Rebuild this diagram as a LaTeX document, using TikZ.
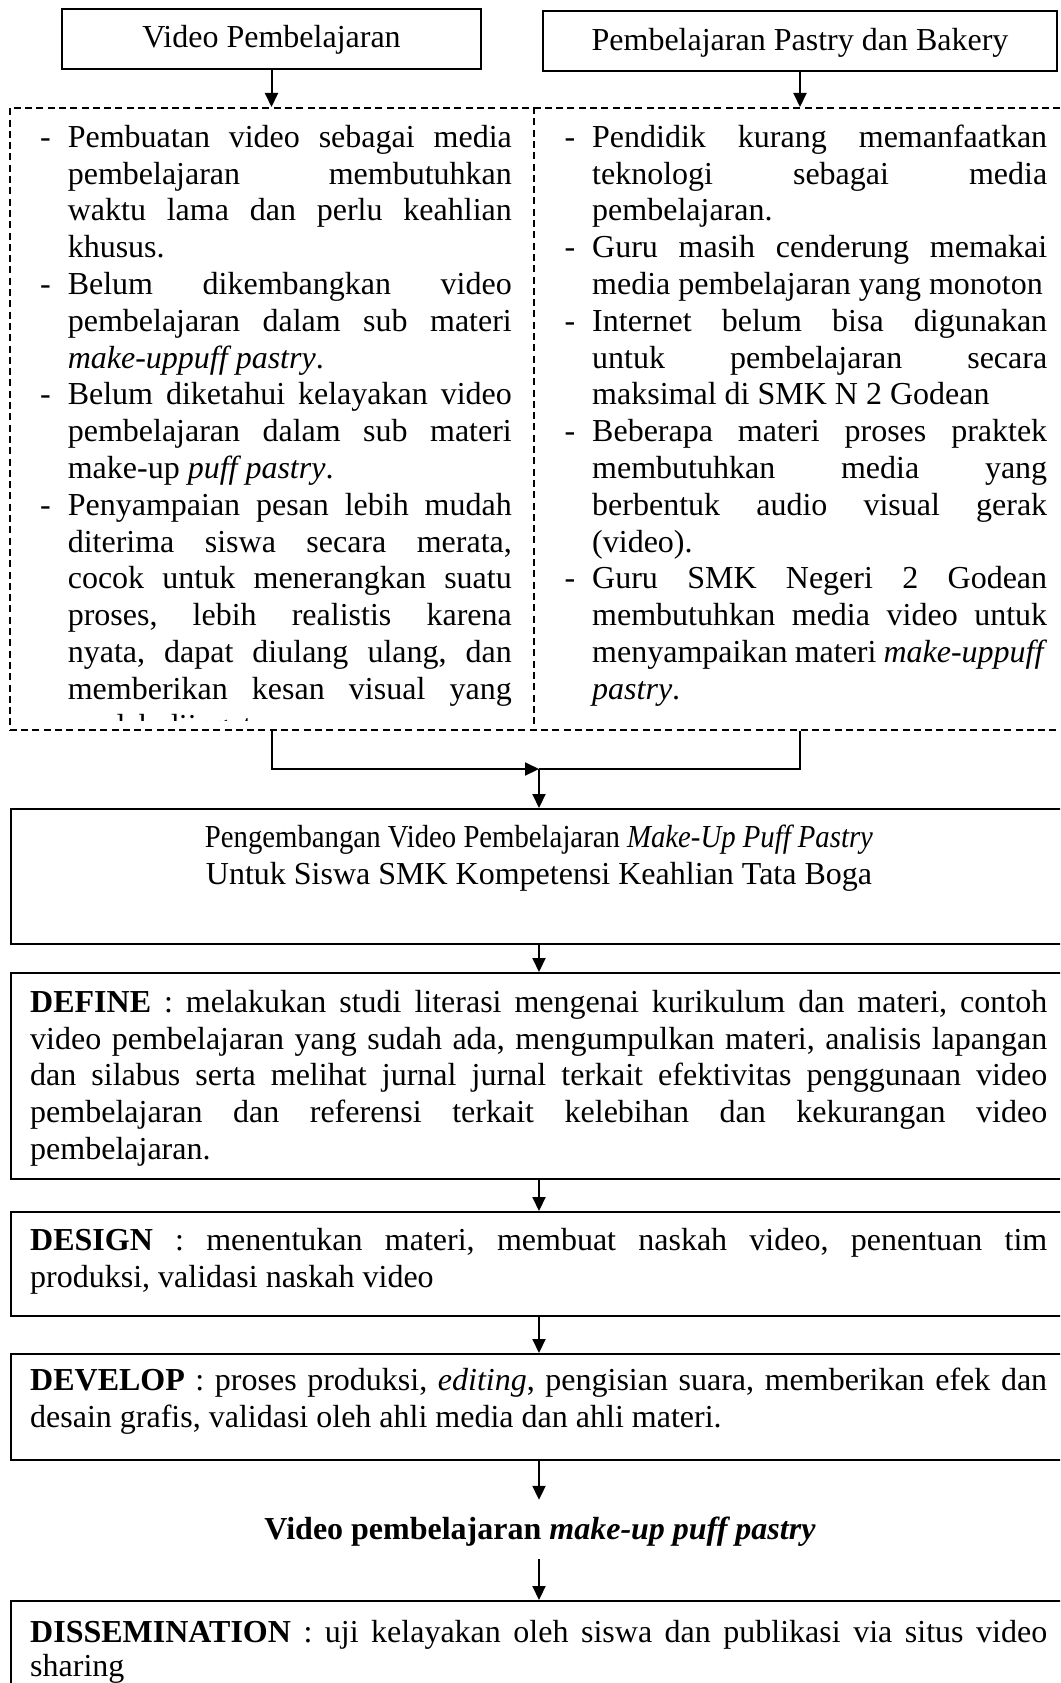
\documentclass[tikz,border=0pt]{standalone}
\usepackage{fontspec}
\setmainfont{Liberation Serif}
\usepackage{graphicx}
\usetikzlibrary{arrows.meta,calc}
\newcommand{\rsp}{\spaceskip=0pt\xspaceskip=0pt\relax}
\newcommand{\jline}[2]{\strut\makebox[#1][s]{\rsp #2}}
\newcommand{\bline}[2]{\strut\llap{-\hspace{17pt}}\makebox[#1][s]{\rsp #2}}
\tikzset{
  bigbox/.style={draw, line width=2pt, inner sep=0pt, anchor=north west, rectangle, minimum width=1090pt},
  topbox/.style={draw, line width=2pt, inner sep=0pt, minimum height=60pt, text height=24pt, text depth=6pt},
  issuebox/.style={draw, line width=1.7pt, dash pattern=on 7pt off 4.3pt, inner sep=0pt, anchor=north west},
  divline/.style={line width=1.7pt, dash pattern=on 7pt off 4.3pt},
  conn/.style={line width=2pt},
  arr/.style={line width=2pt, -{Triangle[length=14pt,width=13pt]}},
  txt/.style={anchor=north west, inner sep=0pt, align=justify},
}
\begin{document}
\begin{tikzpicture}[x=1pt, y=-1pt, font=\fontsize{32pt}{36.8pt}\selectfont\frenchspacing]
\useasboundingbox (0,0) rectangle (1060,1683);
\clip (0,0) rectangle (1060,1683);

% top boxes
\node[topbox, minimum width=419pt] (vp) at (271.5,39) {Video Pembelajaran};
\node[topbox, minimum width=514pt] (pb) at (800,41.5) {Pembelajaran Pastry dan Bakery};

% dashed issues area
\node[issuebox, minimum width=1090pt, minimum height=622pt] (issues) at (9,107) {};
\coordinate (dv) at (534,0);
\draw[divline] (issues.north -| dv) -- (issues.south -| dv);

\draw[arr] (vp.south) -- (vp.south |- issues.north);
\draw[arr] (pb.south) -- (pb.south |- issues.north);

\begin{scope}
\clip (0,107) rectangle (534,720);
\node[txt, text width=444pt] (colL) at (67.6,121.24) {\rsp
\bline{444pt}{Pembuatan video sebagai media}\\
\jline{444pt}{pembelajaran membutuhkan}\\
\jline{444pt}{waktu lama dan perlu keahlian}\\
\strut khusus.\\
\bline{444pt}{Belum dikembangkan video}\\
\jline{444pt}{pembelajaran dalam sub materi}\\
\strut\textit{make-uppuff pastry}.\\
\bline{444pt}{Belum diketahui kelayakan video}\\
\jline{444pt}{pembelajaran dalam sub materi}\\
\strut make-up \textit{puff pastry}.\\
\bline{444pt}{Penyampaian pesan lebih mudah}\\
\jline{444pt}{diterima siswa secara merata,}\\
\jline{444pt}{cocok untuk menerangkan suatu}\\
\jline{444pt}{proses, lebih realistis karena}\\
\jline{444pt}{nyata, dapat diulang ulang, dan}\\
\jline{444pt}{memberikan kesan visual yang}\\
\strut mudah diingat.};
\end{scope}

\node[txt, text width=455pt] (colR) at (592,121.24) {\rsp
\bline{455pt}{Pendidik kurang memanfaatkan}\\
\jline{455pt}{teknologi sebagai media}\\
\strut pembelajaran.\\
\bline{455pt}{Guru masih cenderung memakai}\\
\strut\mbox{media pembelajaran yang monoton}\\
\bline{455pt}{Internet belum bisa digunakan}\\
\jline{455pt}{untuk pembelajaran secara}\\
\strut\mbox{maksimal di SMK N 2 Godean}\\
\bline{455pt}{Beberapa materi proses praktek}\\
\jline{455pt}{membutuhkan media yang}\\
\jline{455pt}{berbentuk audio visual gerak}\\
\strut (video).\\
\bline{455pt}{Guru SMK Negeri 2 Godean}\\
\jline{455pt}{membutuhkan media video untuk}\\
\jline{455pt}{menyampaikan materi \textit{make-uppuff}}\\
\strut\textit{pastry}.};

% joining connector
\coordinate (jn) at (539,769);
\coordinate (ax) at (539,0);
\node[bigbox, minimum height=135pt] (peng) at (9.5,808) {};
\draw[arr] (vp.south |- issues.south) |- (jn);
\draw[conn] (pb.south |- issues.south) |- (jn);
\draw[arr] (jn) -- (jn |- peng.north);

\node[anchor=north, inner sep=0pt, text width=1000pt, align=center] (pengtxt) at (539,821.24) {\rsp
\strut\resizebox{668pt}{\height}{Pengembangan Video Pembelajaran \textit{Make-Up Puff Pastry}}\\
\strut\mbox{Untuk Siswa SMK Kompetensi Keahlian Tata Boga}};

% DEFINE
\node[bigbox, minimum height=206pt] (def) at (9.5,972) {};
\node[txt, text width=1017pt] (deftxt) at (30,986.24) {\rsp
\jline{1017pt}{\textbf{DEFINE} : melakukan studi literasi mengenai kurikulum dan materi, contoh}\\
\jline{1017pt}{video pembelajaran yang sudah ada, mengumpulkan materi, analisis lapangan}\\
\jline{1017pt}{dan silabus serta melihat jurnal jurnal terkait efektivitas penggunaan video}\\
\jline{1017pt}{pembelajaran dan referensi terkait kelebihan dan kekurangan video}\\
\strut pembelajaran.};

% DESIGN
\node[bigbox, minimum height=104pt] (des) at (9.5,1211) {};
\node[txt, text width=1017pt] (destxt) at (30,1224.24) {\rsp
\jline{1017pt}{\textbf{DESIGN} : menentukan materi, membuat naskah video, penentuan tim}\\
\strut produksi, validasi naskah video};

% DEVELOP
\node[bigbox, minimum height=106pt] (dev) at (9.5,1353) {};
\node[txt, text width=1017pt] (devtxt) at (30,1364.24) {\rsp
\jline{1017pt}{\textbf{DEVELOP} : proses produksi, \textit{editing}, pengisian suara, memberikan efek dan}\\
\strut desain grafis, validasi oleh ahli media dan ahli materi.};

% product
\node[anchor=base, text height=22pt, text depth=3pt, inner xsep=0pt, inner ysep=17pt] (prod) at (540,1539)
  {\textbf{Video pembelajaran \textit{make-up puff pastry}}};

% DISSEMINATION
\node[bigbox, minimum height=130pt] (dis) at (9.5,1600) {};
\node[txt, text width=1017pt] (distxt) at (30,1616.24) {\rsp
\jline{1017pt}{\textbf{DISSEMINATION} : uji kelayakan oleh siswa dan publikasi via situs video}\\[-2.8pt]
\strut sharing};

% arrows down the chain
\draw[arr] (peng.south -| ax) -- (def.north -| ax);
\draw[arr] (def.south -| ax) -- (des.north -| ax);
\draw[arr] (des.south -| ax) -- (dev.north -| ax);
\draw[arr] (dev.south -| ax) -- (prod.north -| ax);
\draw[arr] (prod.south -| ax) -- (dis.north -| ax);
\end{tikzpicture}
\end{document}
